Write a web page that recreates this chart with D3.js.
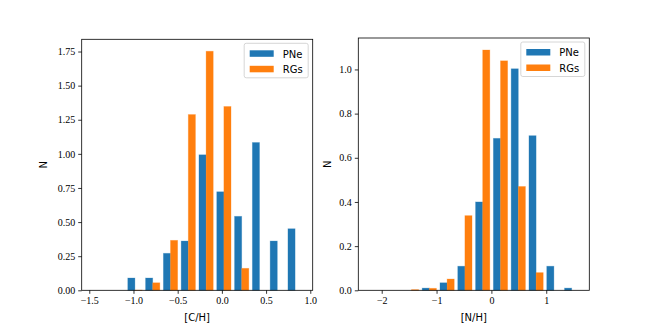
<!DOCTYPE html>
<html><head><meta charset="utf-8">
<script src="https://cdn.jsdelivr.net/npm/d3@7"></script>
<style>body{margin:0;background:#fff}svg{display:block}.tick text{font-family:'Liberation Serif','DejaVu Serif',serif !important}</style>
</head><body>
<script>
// ---- data ----
const cBinStart = -1.487, cBinWidth = 0.2013;
const cPNe = [0, 0, 0.090, 0.090, 0.271, 0.361, 0.993, 0.722, 0.542, 1.083, 0.361, 0.451];
const cRGs = [0, 0, 0.002, 0.055, 0.366, 1.288, 1.752, 1.347, 0.161, 0, 0, 0];
const cXTicks = [-1.5, -1.0, -0.5, 0.0, 0.5, 1.0];
const cYTicks = [0, 0.25, 0.5, 0.75, 1.0, 1.25, 1.5, 1.75];

const nBinStart = -2.268, nBinWidth = 0.3245;
const nPNe = [0, 0, 0, 0.010, 0.034, 0.109, 0.400, 0.688, 1.003, 0.700, 0.109, 0.010];
const nRGs = [0, 0, 0.003, 0.009, 0.051, 0.338, 1.088, 1.039, 0.470, 0.080, 0, 0];
const nXTicks = [-2, -1, 0, 1];
const nYTicks = [0, 0.2, 0.4, 0.6, 0.8, 1.0];

const seriesNames = ["PNe", "RGs"];
const colors = ["#1f77b4", "#ff7f0e"];

const W = 654, H = 327;
const svg = d3.select("body").append("svg").attr("width", W).attr("height", H);
const minus = s => s.replace("-", "\u2212");

function panel(opts) {
  const {left, right, top, bottom, start, bw, data, xTicks, yTicks, yFmt, xFmt, xLabel} = opts;
  const nb = data[0].length;
  const dMin = start + 0.1 * bw, dMax = start + nb * bw - 0.1 * bw;
  const m = 0.05 * (dMax - dMin);
  const x = d3.scaleLinear().domain([dMin - m, dMax + m]).range([left, right]);
  const yMax = d3.max(data.flat()) * 1.05;
  const y = d3.scaleLinear().domain([0, yMax]).range([bottom, top]);
  const g = svg.append("g");
  const sub = 0.8 * bw / data.length;
  data.forEach((vals, si) => {
    g.append("g").selectAll("rect").data(vals).join("rect")
      .attr("x", (d, i) => x(start + i * bw + 0.1 * bw + si * sub))
      .attr("width", (d, i) => x(start + i * bw + 0.1 * bw + (si + 1) * sub) - x(start + i * bw + 0.1 * bw + si * sub))
      .attr("y", d => y(d))
      .attr("height", d => y(0) - y(d))
      .attr("fill", colors[si])
      .attr("stroke", colors[si]).attr("stroke-opacity", 0.35).attr("stroke-width", 0.8);
  });
  // frame
  g.append("rect").attr("x", left).attr("y", top).attr("width", right - left).attr("height", bottom - top)
    .attr("fill", "none").attr("stroke", "#000").attr("stroke-width", 0.8);
  const xa = g.append("g").attr("transform", `translate(0,${bottom})`)
    .call(d3.axisBottom(x).tickValues(xTicks).tickSize(3.5).tickPadding(3).tickFormat(d => minus(xFmt(d))));
  const ya = g.append("g").attr("transform", `translate(${left},0)`)
    .call(d3.axisLeft(y).tickValues(yTicks).tickSize(3.5).tickPadding(3).tickFormat(d => minus(yFmt(d))));
  [xa, ya].forEach(a => {
    a.attr("font-family", "'Liberation Serif', 'DejaVu Serif', serif");
    a.select(".domain").remove();
    a.selectAll(".tick line").attr("stroke", "#000").attr("stroke-width", 0.8);
    a.selectAll(".tick text").style("font-family", "'Liberation Serif', 'DejaVu Serif', serif").attr("font-size", 10).attr("fill", "#000");
  });
  g.append("text").attr("x", (left + right) / 2).attr("y", bottom + 31).attr("text-anchor", "middle")
    .attr("font-family", "'DejaVu Sans', sans-serif").attr("font-size", 10).text(xLabel);
  g.append("text").attr("transform", `translate(${opts.ylabX},${(top + bottom) / 2}) rotate(-90)`)
    .attr("text-anchor", "middle").attr("dy", "0.35em")
    .attr("font-family", "'DejaVu Sans', sans-serif").attr("font-size", 10).text("N");
  // legend
  const lw = 64, lh = 34.5;
  const lx = right - 4.5 - lw, ly = top + 4;
  const lg = g.append("g").attr("transform", `translate(${lx},${ly})`);
  lg.append("rect").attr("width", lw).attr("height", lh).attr("rx", 2)
    .attr("fill", "#fff").attr("fill-opacity", 0.8).attr("stroke", "#ccc").attr("stroke-width", 0.8);
  seriesNames.forEach((s, i) => {
    lg.append("rect").attr("x", 5.5).attr("y", 7 + i * 15.5).attr("width", 24).attr("height", 6.5).attr("fill", colors[i]);
    lg.append("text").attr("x", 38.5).attr("y", 14.3 + i * 15.5)
      .attr("font-family", "'DejaVu Sans', sans-serif").attr("font-size", 10).text(s);
  });
}

panel({left: 81.7, right: 312.7, top: 39.3, bottom: 290.3, start: cBinStart, bw: cBinWidth,
  data: [cPNe, cRGs], xTicks: cXTicks, yTicks: cYTicks, yFmt: d3.format(".2f"), xFmt: d3.format(".1f"),
  xLabel: "[C/H]", ylabX: 43});
panel({left: 358.3, right: 589.3, top: 38, bottom: 290.3, start: nBinStart, bw: nBinWidth,
  data: [nPNe, nRGs], xTicks: nXTicks, yTicks: nYTicks, yFmt: d3.format(".1f"), xFmt: d3.format("d"),
  xLabel: "[N/H]", ylabX: 327});
</script>
</body></html>
